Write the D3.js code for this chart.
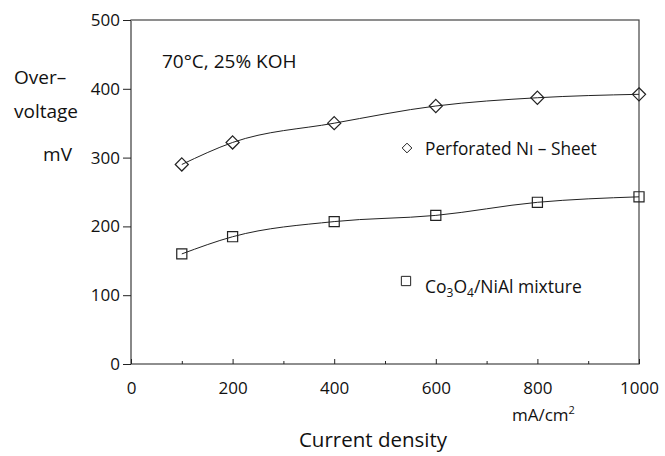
<!DOCTYPE html>
<meta charset="utf-8">
<style>
body { margin: 0; background: #fff; }
text { font-family: "Open Sans", sans-serif; fill: #111; }
.axis path { display: none; }
.axis line { stroke: #222; }
</style>
<svg id="chart" width="665" height="456"></svg>
<script src="https://d3js.org/d3.v7.min.js"></script>
<script>

var currents = [100, 200, 400, 600, 800, 1000];
var niSheet = [290, 322, 350, 375, 387, 392];
var coMix = [160, 185, 207, 216, 235, 243];
var xTicks = [0, 200, 400, 600, 800, 1000];
var yTicks = [0, 100, 200, 300, 400, 500];

var svg = d3.select("svg"),
    margin = {top: 20, right: 26, bottom: 92, left: 131},
    width = +svg.attr("width") - margin.left - margin.right,
    height = +svg.attr("height") - margin.top - margin.bottom;

var x = d3.scaleLinear().domain([0, 1000]).range([0, width]),
    y = d3.scaleLinear().domain([0, 500]).range([height, 0]);

var g = svg.append("g")
    .attr("transform", "translate(" + margin.left + "," + margin.top + ")");

// frame
g.append("rect")
    .attr("width", width)
    .attr("height", height)
    .attr("fill", "none")
    .attr("stroke", "#444")
    .attr("stroke-width", 1.2);

g.append("line")
    .attr("x1", 0).attr("x2", 0).attr("y1", 0).attr("y2", height)
    .attr("stroke", "#888").attr("stroke-width", 2);

// x axis, ticks pointing inward
var xa = g.append("g")
    .attr("class", "axis")
    .attr("transform", "translate(0," + height + ")")
    .call(d3.axisBottom(x).tickValues(xTicks).tickSize(-5).tickPadding(18).tickFormat(d3.format("d")));
xa.selectAll("text").style("font-size", "17px");

// minor x ticks
g.append("g")
    .attr("class", "axis")
    .attr("transform", "translate(0," + height + ")")
    .call(d3.axisBottom(x).tickValues([100, 300, 500, 700, 900]).tickSize(-3).tickFormat(""));

var ya = g.append("g")
    .attr("class", "axis")
    .call(d3.axisLeft(y).tickValues(yTicks).tickSize(8).tickPadding(3));
ya.selectAll("text").style("font-size", "17px");

var line = d3.line()
    .curve(d3.curveMonotoneX)
    .x(function(d, i) { return x(currents[i]); })
    .y(function(d) { return y(d); });

g.append("path").datum(niSheet)
    .attr("d", line).attr("fill", "none").attr("stroke", "#222").attr("stroke-width", 1);
g.append("path").datum(coMix)
    .attr("d", line).attr("fill", "none").attr("stroke", "#222").attr("stroke-width", 1);

var diamond = d3.symbol().type(d3.symbolDiamond2).size(110);
var square = d3.symbol().type(d3.symbolSquare2).size(130);

g.selectAll(".dia").data(niSheet).enter().append("path")
    .attr("class", "dia")
    .attr("d", diamond)
    .attr("transform", function(d, i) { return "translate(" + x(currents[i]) + "," + y(d) + ")"; })
    .attr("fill", "none").attr("stroke", "#222").attr("stroke-width", 1.2);

g.selectAll(".sq").data(coMix).enter().append("path")
    .attr("class", "sq")
    .attr("d", square)
    .attr("transform", function(d, i) { return "translate(" + x(currents[i]) + "," + y(d) + ")"; })
    .attr("fill", "none").attr("stroke", "#222").attr("stroke-width", 1.2);

// legend entries inside the plot
g.append("path").attr("d", d3.symbol().type(d3.symbolDiamond2).size(60))
    .attr("transform", "translate(276,128)")
    .attr("fill", "none").attr("stroke", "#222");
g.append("text").attr("x", 294).attr("y", 135)
    .style("font-size", "17.3px").text("Perforated Nı – Sheet");

g.append("path").attr("d", d3.symbol().type(d3.symbolSquare2).size(110))
    .attr("transform", "translate(275,261)")
    .attr("fill", "none").attr("stroke", "#222");
var co = g.append("text").attr("x", 294).attr("y", 273).style("font-size", "17.5px");
co.append("tspan").text("Co");
co.append("tspan").attr("dy", 4).style("font-size", "12px").text("3");
co.append("tspan").attr("dy", -4).text("O");
co.append("tspan").attr("dy", 4).style("font-size", "12px").text("4");
co.append("tspan").attr("dy", -4).text("/NiAl mixture");

g.append("text").attr("x", 31).attr("y", 48)
    .style("font-size", "19px").text("70°C, 25% KOH");

// axis titles
svg.append("text").attr("x", 14).attr("y", 84).style("font-size", "19px").text("Over–");
svg.append("text").attr("x", 14).attr("y", 118).style("font-size", "19px").text("voltage");
svg.append("text").attr("x", 72).attr("y", 161).attr("text-anchor", "end").style("font-size", "19px").text("mV");

var unit = svg.append("text").attr("x", 512).attr("y", 421).style("font-size", "17px");
unit.append("tspan").text("mA/cm");
unit.append("tspan").attr("dy", -7).style("font-size", "11px").text("2");

svg.append("text").attr("x", 373).attr("y", 447).attr("text-anchor", "middle")
    .style("font-size", "20.5px").text("Current density");

</script>
